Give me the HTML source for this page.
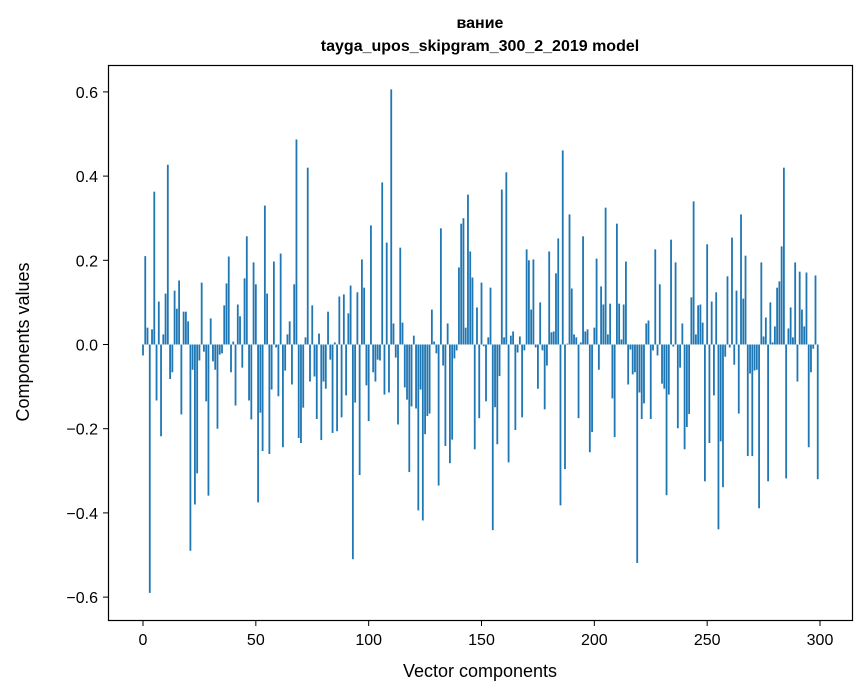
<!DOCTYPE html>
<html><head><meta charset="utf-8"><style>
body{margin:0;background:#fff;}
svg{display:block;font-family:"Liberation Sans","DejaVu Sans",sans-serif;}
</style></head><body>
<svg id="chart" width="867" height="696">
<text x="480" y="28" text-anchor="middle" font-size="16" font-weight="bold">вание</text>
<text x="480" y="51" text-anchor="middle" font-size="16" font-weight="bold">tayga_upos_skipgram_300_2_2019 model</text>
<text x="480" y="677" text-anchor="middle" font-size="18">Vector components</text>
<text transform="translate(29,342) rotate(-90)" text-anchor="middle" font-size="18">Components values</text>
<g id="bars"></g>
<g id="axes"></g>
<rect x="108.5" y="65.5" width="744" height="555" fill="none" stroke="#000" stroke-width="1.2"/>
</svg>
<script>
const values = [
-0.026,0.21,0.04,-0.59,0.036,0.363,-0.133,0.102,-0.218,0.024,
0.121,0.427,-0.082,-0.066,0.128,0.085,0.152,-0.166,0.078,0.078,
0.055,-0.49,-0.06,-0.38,-0.306,-0.038,0.147,-0.017,-0.135,-0.359,
0.062,-0.04,-0.06,-0.2,-0.024,-0.021,0.093,0.145,0.209,-0.066,
0.007,-0.145,0.095,0.067,-0.055,0.157,0.257,-0.133,-0.178,0.195,
0.143,-0.375,-0.162,-0.253,0.33,0.121,-0.26,-0.107,0.197,-0.007,
-0.123,0.216,-0.244,-0.062,0.024,0.055,-0.095,0.143,0.487,-0.222,
-0.234,-0.15,0.017,0.42,-0.088,0.093,-0.076,-0.177,0.026,-0.227,
-0.088,-0.105,0.078,-0.036,-0.21,0.005,-0.206,0.114,-0.173,0.119,
-0.121,0.074,0.14,-0.51,-0.138,0.124,-0.31,0.202,0.135,-0.097,
-0.182,0.283,-0.066,-0.088,-0.036,-0.038,0.385,-0.119,0.242,-0.114,
0.606,0.05,-0.031,-0.19,0.23,0.052,-0.102,-0.131,-0.303,-0.147,
0.021,-0.152,-0.394,-0.107,-0.418,-0.213,-0.17,-0.164,0.083,0.007,
-0.021,-0.335,0.276,-0.05,-0.241,0.05,-0.282,-0.226,-0.033,-0.014,
0.183,0.287,0.3,0.04,0.356,0.221,0.159,-0.249,0.088,-0.175,
0.147,-0.004,-0.135,0.017,0.135,-0.441,-0.149,-0.237,-0.075,0.368,
0.017,0.409,-0.28,0.021,0.031,-0.203,-0.019,0.019,-0.173,-0.014,
0.226,0.2,0.083,0.202,-0.007,-0.105,0.1,-0.014,-0.154,-0.05,
0.221,0.029,0.031,0.169,0.252,-0.382,0.461,-0.296,0.002,0.309,
0.133,0.024,0.017,-0.175,0.005,0.257,0.031,0.036,-0.256,-0.208,
0.04,0.204,-0.06,0.138,0.095,0.325,0.024,0.097,-0.128,-0.22,
0.287,0.097,0.012,0.095,0.197,-0.095,-0.012,-0.071,-0.066,-0.519,
-0.114,-0.177,-0.14,0.05,0.057,-0.177,-0.014,0.226,-0.026,0.143,
-0.093,-0.105,-0.358,-0.119,0.249,-0.005,0.195,-0.199,-0.055,0.05,
-0.249,-0.196,-0.165,0.112,0.34,0.024,0.093,0.095,0.052,-0.325,
0.238,-0.234,0.102,-0.121,0.124,-0.439,-0.23,-0.339,-0.029,0.162,
-0.007,0.254,-0.048,0.128,-0.164,0.309,0.109,0.211,-0.265,-0.069,
-0.265,-0.062,-0.06,-0.389,0.195,0.019,0.064,-0.325,0.1,0.005,
0.043,0.135,0.15,0.233,0.42,-0.318,0.038,0.088,0.017,0.195,
-0.088,0.173,0.083,0.043,0.171,-0.244,-0.066,-0.01,0.164,-0.32
];
const xTicks = [0,50,100,150,200,250,300];
const yTicks = [-0.6,-0.4,-0.2,0.0,0.2,0.4,0.6];
const yTickLabels = ["−0.6","−0.4","−0.2","0.0","0.2","0.4","0.6"];

const NS="http://www.w3.org/2000/svg";
function xScale(i){return 143 + i*(820-143)/300;}
function yScale(v){return 344.5 - v*421;}
const bw=(820-143)/300*0.8;
const bars=document.getElementById('bars');
values.forEach((v,i)=>{
  const r=document.createElementNS(NS,'rect');
  const y0=yScale(0), y1=yScale(v);
  r.setAttribute('x',xScale(i)-bw/2);
  r.setAttribute('y',Math.min(y0,y1));
  r.setAttribute('width',bw);
  r.setAttribute('height',Math.max(0.3,Math.abs(y1-y0)));
  r.setAttribute('fill','#1f77b4');
  
  
  bars.appendChild(r);
});
const axes=document.getElementById('axes');
xTicks.forEach(t=>{
  const x=xScale(t);
  const l=document.createElementNS(NS,'line');
  l.setAttribute('x1',x);l.setAttribute('x2',x);l.setAttribute('y1',620.5);l.setAttribute('y2',626);
  l.setAttribute('stroke','#000');
  
  
  axes.appendChild(l);
  const tx=document.createElementNS(NS,'text');
  tx.setAttribute('x',x);tx.setAttribute('y',645);tx.setAttribute('text-anchor','middle');tx.setAttribute('font-size','16');
  tx.textContent=t;
  
  
  axes.appendChild(tx);
});
yTicks.forEach((t,i)=>{
  const y=yScale(t);
  const l=document.createElementNS(NS,'line');
  l.setAttribute('x1',103);l.setAttribute('x2',108.5);l.setAttribute('y1',y);l.setAttribute('y2',y);
  l.setAttribute('stroke','#000');
  
  
  axes.appendChild(l);
  const tx=document.createElementNS(NS,'text');
  tx.setAttribute('x',98);tx.setAttribute('y',y+6);tx.setAttribute('text-anchor','end');tx.setAttribute('font-size','16');
  tx.textContent=yTickLabels[i];
  
  
  axes.appendChild(tx);
});
</script>
</body></html>
